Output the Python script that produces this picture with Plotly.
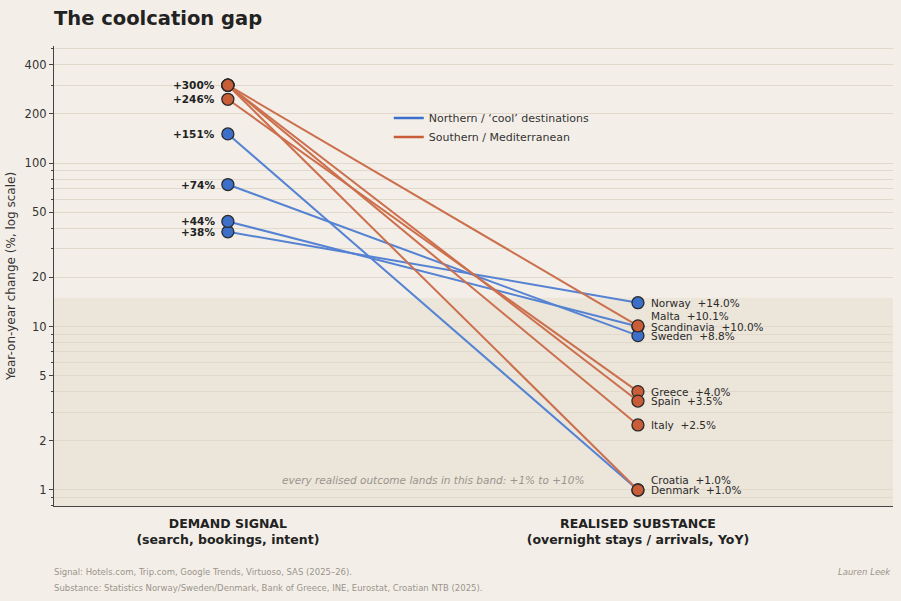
import math
import plotly.graph_objects as go

# ---- data ----
north_names = ["Norway", "Scandinavia", "Sweden", "Denmark"]
north_signal = [38, 44, 74, 151]
north_outcome = [14.0, 10.0, 8.8, 1.0]

south_names = ["Malta", "Greece", "Spain", "Italy", "Croatia"]
south_signal = [300, 246, 300, 300, 300]
south_outcome = [10.1, 4.0, 3.5, 2.5, 1.0]

stage_labels = ["<b>DEMAND SIGNAL</b><br><b>(search, bookings, intent)</b>",
                "<b>REALISED SUBSTANCE</b><br><b>(overnight stays / arrivals, YoY)</b>"]
y_tick_vals = [1, 2, 5, 10, 20, 50, 100, 200, 400]
band_top = 15

# ---- style ----
BG = "#f3efe8"
BAND = "#ebe5da"
GRID = "#e0d9cc"
BLUE_L = "#5582d2"
BLUE_M = "#3b6fc9"
ORG_L = "#cc6f4d"
ORG_M = "#c95d38"
FONT = "DejaVu Sans"
label_shift = {"Malta": 10, "Croatia": 10}

ymin_log, ymax_log = -0.098, 2.717
xmin, xmax = -0.424, 1.622

fig = go.Figure()

def add_group(names, sig, out, lc, mc):
    for n, s, o in zip(names, sig, out):
        fig.add_trace(go.Scatter(
            x=[0, 1], y=[s, o], mode="lines+markers",
            line=dict(color=lc, width=2),
            marker=dict(size=12, color=mc, line=dict(color="#2a2a2a", width=1.3)),
            showlegend=False, hoverinfo="skip", cliponaxis=False))

add_group(north_names, north_signal, north_outcome, BLUE_L, BLUE_M)
add_group(south_names, south_signal, south_outcome, ORG_L, ORG_M)

# legend entries
fig.add_trace(go.Scatter(x=[None], y=[None], mode="lines", line=dict(color=BLUE_M, width=2.5),
                         name="Northern / \u2018cool\u2019 destinations"))
fig.add_trace(go.Scatter(x=[None], y=[None], mode="lines", line=dict(color=ORG_M, width=2.5),
                         name="Southern / Mediterranean"))

ann = []
# left labels
for v in sorted(set(north_signal + south_signal)):
    ann.append(dict(x=0, y=math.log10(v), xref="x", yref="y", text=f"<b>+{v}%</b>",
                    showarrow=False, xanchor="right", yanchor="middle", xshift=-11,
                    font=dict(family=FONT, size=10.5, color="#222")))
# right labels
for n, o in list(zip(north_names, north_outcome)) + list(zip(south_names, south_outcome)):
    ann.append(dict(x=1, y=math.log10(o), xref="x", yref="y",
                    text=f"{n}\u00a0 +{o:.1f}%", showarrow=False,
                    xanchor="left", yanchor="middle", xshift=11,
                    yshift=label_shift.get(n, 0),
                    font=dict(family=FONT, size=10.5, color="#2b2b2b")))
# band note
ann.append(dict(x=0.5, y=math.log10(1.15), xref="x", yref="y",
                text="<i>every realised outcome lands in this band: +1% to +10%</i>",
                showarrow=False, xanchor="center", yanchor="middle",
                font=dict(family=FONT, size=10.5, color="#9a948c")))
# title & footer
ann.append(dict(x=0, y=1, xref="paper", yref="paper", xanchor="left", yanchor="top",
                text="<b>The coolcation gap</b>", showarrow=False, yshift=41, xshift=-2,
                font=dict(family=FONT, size=19.5, color="#222")))
ann.append(dict(x=0, y=0, xref="paper", yref="paper", xanchor="left", yanchor="middle",
                text="Signal: Hotels.com, Trip.com, Google Trends, Virtuoso, SAS (2025\u201326).",
                showarrow=False, yshift=-66, xshift=-2,
                font=dict(family=FONT, size=8.5, color="#9a948c")))
ann.append(dict(x=0, y=0, xref="paper", yref="paper", xanchor="left", yanchor="middle",
                text="Substance: Statistics Norway/Sweden/Denmark, Bank of Greece, INE, Eurostat, Croatian NTB (2025).",
                showarrow=False, yshift=-82, xshift=-2,
                font=dict(family=FONT, size=8.5, color="#9a948c")))
ann.append(dict(x=1, y=0, xref="paper", yref="paper", xanchor="right", yanchor="middle",
                text="<i>Lauren Leek</i>", showarrow=False, yshift=-66,
                font=dict(family=FONT, size=8.5, color="#9a948c")))

band_frac = (math.log10(band_top) - ymin_log) / (ymax_log - ymin_log)

minor_vals = [d * 10 ** k for k in range(-1, 3) for d in range(1, 10)]
minor_vals = [m for m in minor_vals if m not in y_tick_vals]

fig.update_layout(
    width=901, height=601,
    paper_bgcolor=BG, plot_bgcolor=BG,
    margin=dict(l=54, r=8, t=46, b=95),
    font=dict(family=FONT, color="#333"),
    annotations=ann,
    shapes=[dict(type="rect", xref="paper", yref="paper", x0=0, x1=1, y0=0, y1=band_frac,
                 fillcolor=BAND, line=dict(width=0), layer="below")],
    legend=dict(x=0.399, y=0.875, xanchor="left", yanchor="top", bgcolor="rgba(0,0,0,0)",
                font=dict(family=FONT, size=11, color="#333"), tracegroupgap=0,
                itemwidth=30),
    xaxis=dict(range=[xmin, xmax], tickvals=[0, 1], ticktext=stage_labels,
               showgrid=False, zeroline=False, showline=True, linecolor="#444", linewidth=1.3,
               ticks="", ticklabelstandoff=6,
               tickfont=dict(family=FONT, size=12.5, color="#222")),
    yaxis=dict(type="log", range=[ymin_log, ymax_log], tickvals=y_tick_vals,
               ticktext=[str(v) for v in y_tick_vals],
               showgrid=True, gridcolor=GRID, gridwidth=1, zeroline=False,
               showline=True, linecolor="#444", linewidth=1.3,
               ticks="outside", ticklen=4, tickcolor="#444",
               tickfont=dict(family=FONT, size=11.5, color="#333"),
               title=dict(text="Year-on-year change (%, log scale)", standoff=6,
                          font=dict(family=FONT, size=12, color="#333")),
               minor=dict(tickvals=minor_vals, showgrid=True, gridcolor=GRID, gridwidth=1,
                          ticks="outside", ticklen=2, tickcolor="#444")),
)

fig.write_html("out.html",
               config={"displayModeBar": False},
               post_script="document.body.style.margin='0';"
                           "document.body.style.background='#f3efe8';")
